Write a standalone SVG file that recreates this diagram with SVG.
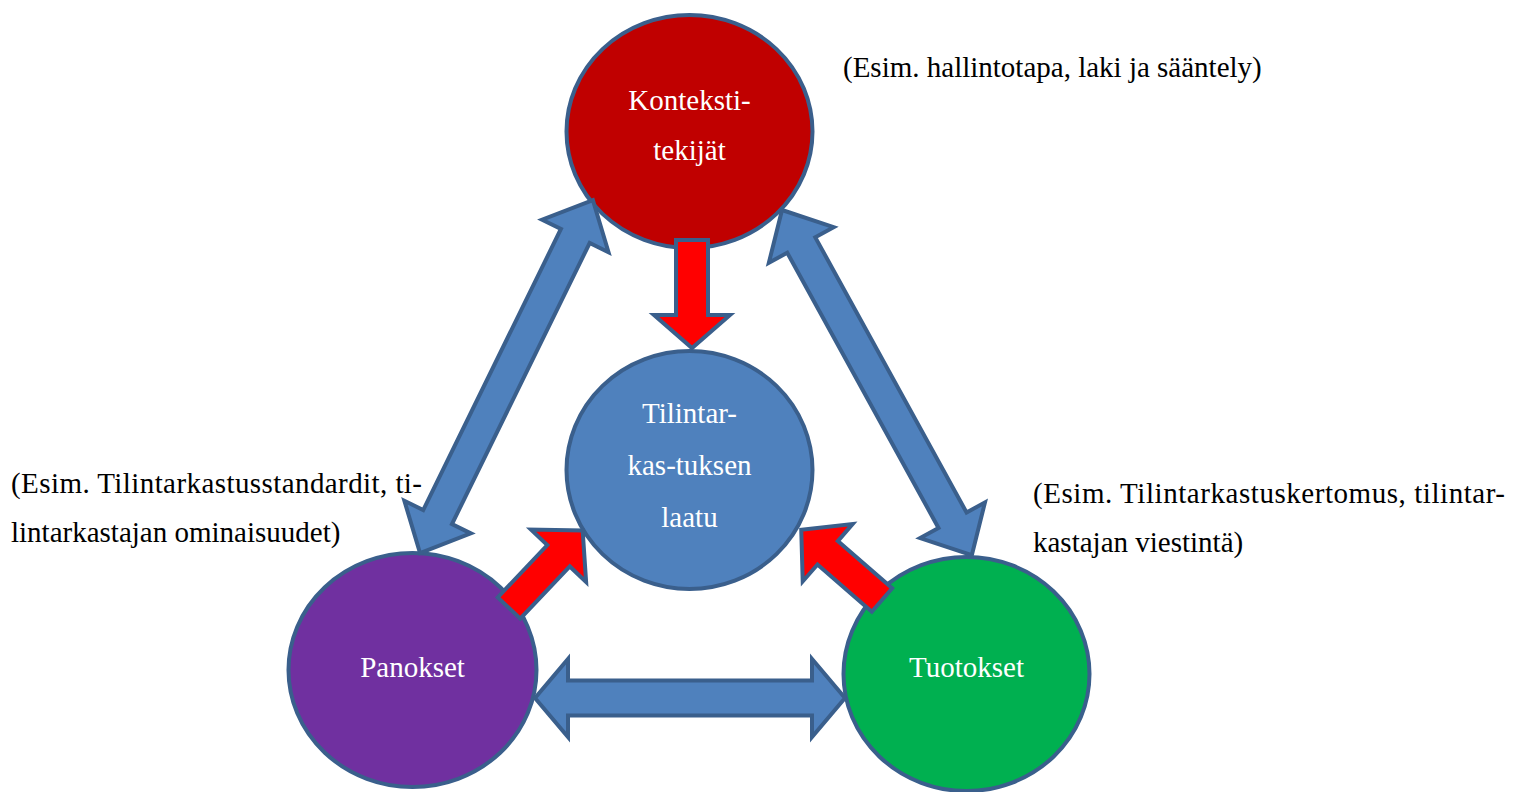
<svg xmlns="http://www.w3.org/2000/svg" width="1523" height="792" viewBox="0 0 1523 792">
<style>
.node{stroke:#3A5F8C;stroke-width:4}
.blue{fill:#4F81BD;stroke:#3A5F8C;stroke-width:4;stroke-linejoin:miter}
.red{fill:#FF0000;stroke:#3A5F8C;stroke-width:4;stroke-linejoin:miter}
.lbl{font-size:29px;fill:#FFFFFF;text-anchor:middle}
.note{font-size:29px;fill:#000000}
</style>
<rect width="1523" height="792" fill="#FFFFFF"/>
<g font-family="'Liberation Serif', 'Times New Roman', Tinos, 'DejaVu Serif', serif">
<g id="node-konteksti">
<ellipse class="node" cx="689.5" cy="131.5" rx="123" ry="116.5" fill="#C00000"/>
<text class="lbl" x="689.5" y="110">Konteksti-</text>
<text class="lbl" x="689.5" y="160">tekijät</text>
</g>
<g id="node-laatu">
<ellipse class="node" cx="689.5" cy="470" rx="123" ry="119" fill="#4F81BD"/>
<text class="lbl" x="689.5" y="423">Tilintar-</text>
<text class="lbl" x="689.5" y="475">kas-tuksen</text>
<text class="lbl" x="689.5" y="527">laatu</text>
</g>
<g id="node-panokset">
<ellipse class="node" cx="412.5" cy="670" rx="124" ry="117" fill="#7030A0"/>
<text class="lbl" x="412.5" y="677">Panokset</text>
</g>
<g id="node-tuotokset">
<ellipse class="node" cx="966.5" cy="674" rx="123" ry="117" fill="#00B050"/>
<text class="lbl" x="966.5" y="677">Tuotokset</text>
</g>
<g id="connectors">
<polygon class="blue" transform="translate(420,553) rotate(-63.9)" points="0,0 40,-37 40,-16 353,-16 353,-37 393,0 353,37 353,16 40,16 40,37"/>
<polygon class="blue" transform="translate(782,210) rotate(61.2)" points="0,0 40,-37 40,-16 354,-16 354,-37 394,0 354,37 354,16 40,16 40,37"/>
<polygon class="blue" transform="translate(535,698)" points="0,0 33,-39 33,-17.5 277,-17.5 277,-39 310,0 277,39 277,17.5 33,17.5 33,39"/>
<polygon class="red" transform="translate(692,240) rotate(90)" points="0,-16 75,-16 75,-38 108,0 75,38 75,16 0,16"/>
<polygon class="red" transform="translate(509,608) rotate(-46.5)" points="0,-15.5 72,-15.5 72,-38 107,0 72,38 72,15.5 0,15.5"/>
<polygon class="red" transform="translate(882,600) rotate(-139)" points="0,-15.5 72,-15.5 72,-38 107,0 72,38 72,15.5 0,15.5"/>
</g>
<g id="notes">
<text class="note" x="843" y="77">(Esim. hallintotapa, laki ja sääntely)</text>
<text class="note" x="11" y="493" textLength="411" lengthAdjust="spacing">(Esim. Tilintarkastusstandardit, ti-</text>
<text class="note" x="11" y="542">lintarkastajan ominaisuudet)</text>
<text class="note" x="1033" y="503" textLength="472" lengthAdjust="spacing">(Esim. Tilintarkastuskertomus, tilintar-</text>
<text class="note" x="1033" y="552">kastajan viestintä)</text>
</g>
</g>
</svg>
